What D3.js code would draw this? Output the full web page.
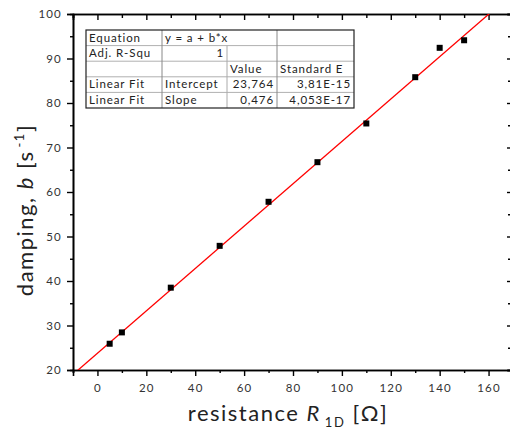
<!DOCTYPE html>
<html><head><meta charset="utf-8">
<script src="https://cdn.jsdelivr.net/npm/d3@7"></script>
<style>
body{margin:0;background:#fff;}
svg{display:block;font-family:Lato,"Open Sans",sans-serif;}
</style></head>
<body><svg id="c" width="510" height="430"></svg>
<script>
// Data
const resistance = [5, 10, 30, 50, 70, 90, 110, 130, 140, 150];
const damping = [25.9, 28.45, 38.5, 47.9, 57.8, 66.7, 75.4, 85.8, 92.4, 94.1];
const fitIntercept = 23.764;
const fitSlope = 0.476;
const xMajorTicks = [0, 20, 40, 60, 80, 100, 120, 140, 160];
const yMajorTicks = [20, 30, 40, 50, 60, 70, 80, 90, 100];
const tableRows = [
  ["Equation", "y = a + b*x", "", ""],
  ["Adj. R-Squ", "1", "", ""],
  ["", "", "Value", "Standard E"],
  ["Linear Fit", "Intercept", "23,764", "3,81E-15"],
  ["Linear Fit", "Slope", "0,476", "4,053E-17"]
];

const svg = d3.select("#c");
const L = 73, R = 513, T = 14, B = 370;
const x = d3.scaleLinear().domain([-10, 170]).range([L, R]);
const y = d3.scaleLinear().domain([20, 100]).range([B, T]);

svg.append("defs").append("clipPath").attr("id", "clip")
  .append("rect").attr("x", L).attr("y", T).attr("width", R - L).attr("height", B - T);

const xMinor = d3.range(-10, 171, 10).filter(v => !xMajorTicks.includes(v));
const yMinor = d3.range(20, 101, 5).filter(v => !yMajorTicks.includes(v));

// bottom axis (outward)
const gb = svg.append("g").attr("transform", `translate(0,${B})`);
gb.call(d3.axisBottom(x).tickValues(xMajorTicks).tickSize(6).tickPadding(8).tickFormat(d3.format("d")));
gb.append("g").call(d3.axisBottom(x).tickValues(xMinor).tickSize(3).tickFormat(""));
// top axis (inward)
const gt = svg.append("g").attr("transform", `translate(0,${T})`);
gt.call(d3.axisBottom(x).tickValues(xMajorTicks).tickSize(6).tickFormat(""));
gt.append("g").call(d3.axisBottom(x).tickValues(xMinor).tickSize(4).tickFormat(""));
// left axis (outward)
const gl = svg.append("g").attr("transform", `translate(${L},0)`);
gl.call(d3.axisLeft(y).tickValues(yMajorTicks).tickSize(6).tickPadding(5).tickFormat(d3.format("d")));
gl.append("g").call(d3.axisLeft(y).tickValues(yMinor).tickSize(3).tickFormat(""));
// right axis (inward)
const gr = svg.append("g").attr("transform", `translate(${R},0)`);
gr.call(d3.axisLeft(y).tickValues(yMajorTicks).tickSize(6).tickFormat(""));
gr.append("g").call(d3.axisLeft(y).tickValues(yMinor).tickSize(5).tickFormat(""));

svg.selectAll(".domain").attr("stroke", "#000").attr("stroke-width", 1.6);
svg.selectAll(".tick line").attr("stroke", "#000").attr("stroke-width", 1.4);
svg.selectAll(".tick text").attr("font-family", "Lato, sans-serif").attr("font-size", 11.5)
  .attr("fill", "#333").attr("letter-spacing", "1.2px");

// fit line
svg.append("line").attr("clip-path", "url(#clip)")
  .attr("x1", x(-10)).attr("y1", y(fitIntercept + fitSlope * -10))
  .attr("x2", x(170)).attr("y2", y(fitIntercept + fitSlope * 170))
  .attr("stroke", "#ff0000").attr("stroke-width", 1.3);

// points
svg.selectAll("rect.pt").data(resistance).enter().append("rect").attr("class", "pt")
  .attr("x", (d) => x(d) - 3).attr("y", (d, i) => y(damping[i]) - 3)
  .attr("width", 6).attr("height", 6).attr("fill", "#000");

// table
const colX = [86, 162, 227, 277, 354];
const rowH = 15.6, tTop = 30;
const tg = svg.append("g").attr("font-family", "Lato, sans-serif").attr("font-size", 11.5).attr("fill", "#222");
tg.append("rect").attr("x", colX[0]).attr("y", tTop).attr("width", colX[4] - colX[0]).attr("height", rowH * 5)
  .attr("fill", "#fff").attr("stroke", "none");
for (let r = 1; r < 5; r++) {
  tg.append("line").attr("x1", colX[0]).attr("x2", colX[4]).attr("y1", tTop + r * rowH).attr("y2", tTop + r * rowH)
    .attr("stroke", "#b0b0b0").attr("stroke-width", 1);
}
tg.append("line").attr("x1", colX[1]).attr("x2", colX[1]).attr("y1", tTop).attr("y2", tTop + 5 * rowH).attr("stroke", "#888");
tg.append("line").attr("x1", colX[2]).attr("x2", colX[2]).attr("y1", tTop + rowH).attr("y2", tTop + 5 * rowH).attr("stroke", "#aaa");
tg.append("line").attr("x1", colX[3]).attr("x2", colX[3]).attr("y1", tTop).attr("y2", tTop + 5 * rowH).attr("stroke", "#888");
tg.append("rect").attr("x", colX[0]).attr("y", tTop).attr("width", colX[4] - colX[0]).attr("height", rowH * 5)
  .attr("fill", "none").attr("stroke", "#222").attr("stroke-width", 1.2);
tableRows.forEach((row, r) => {
  const by = tTop + r * rowH + rowH - 4;
  row.forEach((txt, c) => {
    if (!txt) return;
    let anchor = "start", tx = colX[c] + 3;
    if ((c === 1 && r === 1) || (c >= 2 && r >= 3)) { anchor = "end"; tx = colX[c + 1] - 3; }
    tg.append("text").attr("x", tx).attr("y", by).attr("text-anchor", anchor)
      .attr("letter-spacing", "0.9px").text(txt);
  });
});

// axis titles
const xt = svg.append("text").attr("x", 288).attr("y", 421).attr("text-anchor", "middle")
  .attr("font-family", "Lato, sans-serif").attr("font-size", 22).attr("fill", "#222").attr("letter-spacing", "1.5px");
xt.append("tspan").text("resistance ");
xt.append("tspan").attr("font-style", "italic").text("R");
xt.append("tspan").attr("font-size", 13).attr("dy", 6).attr("dx", 4).text("1D");
xt.append("tspan").attr("dy", -6).text(" [Ω]");

const yt = svg.append("text").attr("transform", "translate(33,210) rotate(-90)").attr("text-anchor", "middle")
  .attr("font-family", "Lato, sans-serif").attr("font-size", 22).attr("fill", "#222").attr("letter-spacing", "1.5px");
yt.append("tspan").text("damping, ");
yt.append("tspan").attr("font-style", "italic").text("b");
yt.append("tspan").text(" [s");
yt.append("tspan").attr("font-size", 13).attr("dy", -9).attr("dx", 3).text("-1");
yt.append("tspan").attr("dy", 9).text("]");
</script></body></html>
